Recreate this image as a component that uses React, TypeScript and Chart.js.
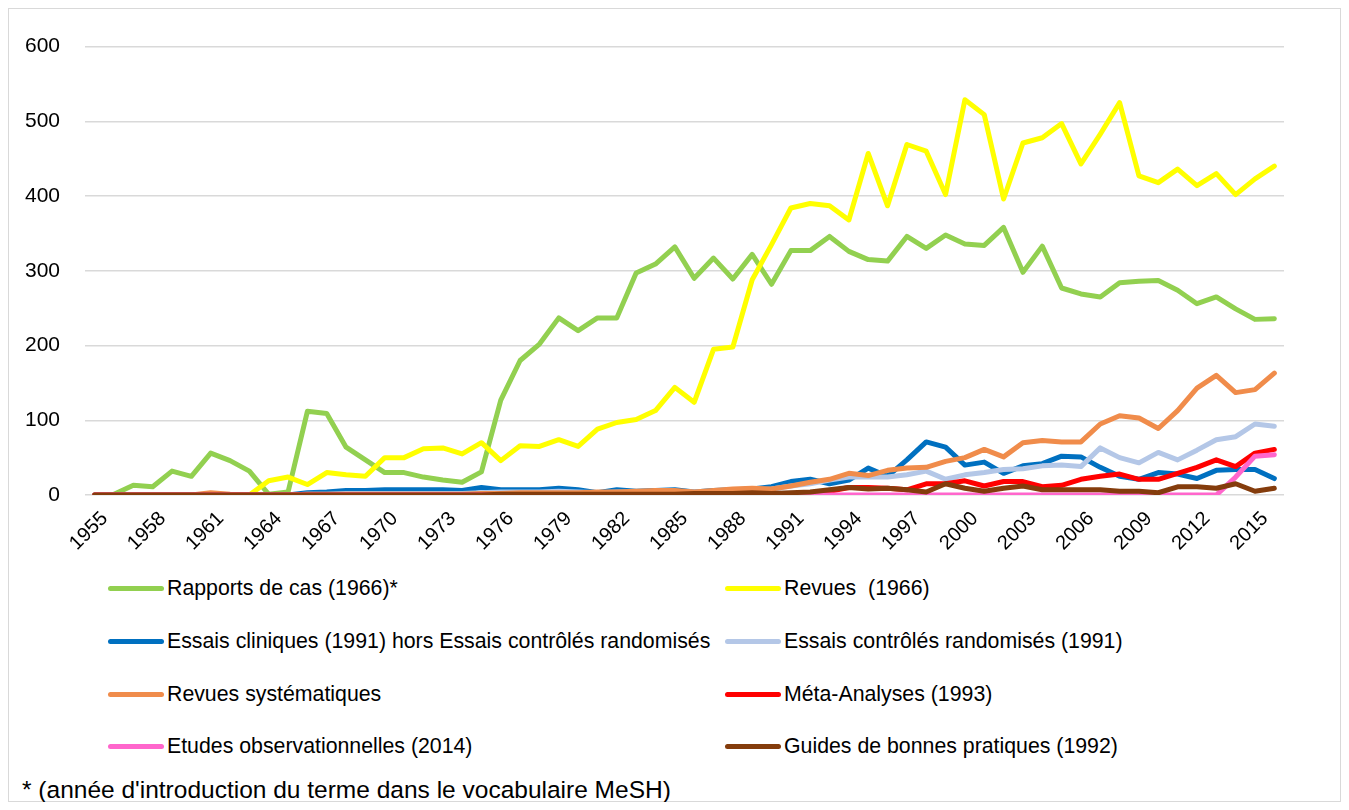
import React, { useEffect, useRef } from "react";
import { Chart, registerables } from "chart.js";

Chart.register(...registerables);

// ---- Data ----
const years = [
  "1955", "1956", "1957", "1958", "1959", "1960", "1961", "1962", "1963", "1964",
  "1965", "1966", "1967", "1968", "1969", "1970", "1971", "1972", "1973", "1974",
  "1975", "1976", "1977", "1978", "1979", "1980", "1981", "1982", "1983", "1984",
  "1985", "1986", "1987", "1988", "1989", "1990", "1991", "1992", "1993", "1994",
  "1995", "1996", "1997", "1998", "1999", "2000", "2001", "2002", "2003", "2004",
  "2005", "2006", "2007", "2008", "2009", "2010", "2011", "2012", "2013", "2014",
  "2015", "2016",
];

const xTickLabels = [
  "1955", "1958", "1961", "1964", "1967", "1970", "1973", "1976", "1979", "1982",
  "1985", "1988", "1991", "1994", "1997", "2000", "2003", "2006", "2009", "2012", "2015",
];

const yTicks = [0, 100, 200, 300, 400, 500, 600];

const rapportsDeCas = [
  0, 1, 13, 11, 32, 25, 56, 46, 32, 1,
  4, 112, 109, 64, 47, 30, 30, 24, 20, 17,
  31, 127, 180, 202, 237, 220, 237, 237, 297, 309,
  332, 290, 317, 289, 322, 282, 327, 327, 346, 326,
  315, 313, 346, 330, 348, 336, 334, 358, 298, 333,
  277, 269, 265, 284, 286, 287, 274, 256, 265, 249,
  235, 236,
];

const revues = [
  0, 0, 0, 0, 0, 0, 0, 0, 0, 19,
  24, 14, 30, 27, 25, 50, 50, 62, 63, 55,
  70, 46, 66, 65, 74, 65, 88, 97, 101, 113,
  144, 124, 195, 198, 288, 335, 384, 390, 387, 368,
  457, 387, 469, 460, 402, 529, 509, 396, 471, 478,
  497, 443, 483, 525, 427, 418, 436, 414, 430, 402,
  423, 440,
];

const essaisCliniques = [
  0, 0, 0, 0, 0, 0, 0, 0, 0, 0,
  0, 3, 4, 6, 6, 7, 7, 7, 7, 6,
  10, 7, 7, 7, 9, 7, 3, 7, 5, 6,
  7, 4, 6, 7, 8, 11, 18, 21, 15, 20,
  36, 25, 47, 71, 64, 40, 44, 29, 39, 42,
  52, 51, 37, 25, 21, 30, 28, 22, 33, 34,
  34, 22,
];

const essaisRandomises = [
  0, 0, 0, 0, 0, 0, 0, 0, 0, 0,
  0, 1, 1, 2, 2, 2, 2, 2, 2, 2,
  3, 4, 4, 4, 5, 4, 3, 4, 4, 5,
  5, 4, 5, 6, 7, 8, 12, 15, 20, 24,
  24, 24, 27, 32, 21, 27, 30, 34, 35, 39,
  40, 38, 63, 50, 43, 57, 47, 60, 74, 78,
  95, 92,
];

const revuesSystematiques = [
  0, 0, 0, 0, 0, 0, 3, 1, 0, 0,
  0, 1, 1, 1, 1, 1, 1, 1, 1, 1,
  2, 2, 3, 3, 3, 3, 4, 4, 5, 6,
  6, 4, 6, 8, 9, 8, 12, 17, 21, 29,
  26, 33, 36, 37, 45, 50, 61, 51, 70, 73,
  71, 71, 95, 106, 103, 89, 113, 143, 160, 137,
  141, 163,
];

const metaAnalyses = [
  0, 0, 0, 0, 0, 0, 0, 0, 0, 0,
  0, 0, 0, 0, 0, 0, 0, 0, 0, 0,
  0, 0, 0, 0, 0, 0, 0, 0, 0, 0,
  0, 0, 0, 0, 0, 0, 1, 3, 5, 10,
  10, 9, 7, 15, 15, 19, 12, 18, 18, 11,
  13, 21, 25, 28, 21, 21, 29, 37, 47, 38,
  56, 61,
];

const etudesObservationnelles = [
  0, 0, 0, 0, 0, 0, 0, 0, 0, 0,
  0, 0, 0, 0, 0, 0, 0, 0, 0, 0,
  0, 0, 0, 0, 0, 0, 0, 0, 0, 0,
  0, 0, 0, 0, 0, 0, 0, 0, 0, 0,
  0, 0, 0, 0, 0, 0, 0, 0, 0, 0,
  0, 0, 0, 0, 0, 0, 0, 0, 0, 24,
  52, 54,
];

const guidesPratiques = [
  0, 0, 0, 0, 0, 0, 0, 0, 0, 0,
  0, 0, 0, 0, 0, 0, 0, 0, 0, 0,
  0, 1, 1, 1, 1, 1, 1, 1, 1, 1,
  1, 2, 2, 2, 3, 2, 3, 4, 7, 10,
  8, 9, 7, 4, 15, 9, 5, 9, 12, 7,
  7, 7, 7, 5, 5, 3, 11, 11, 9, 15,
  5, 9,
];

const seriesNames = [
  "Rapports de cas (1966)*",
  "Revues  (1966)",
  "Essais cliniques (1991) hors Essais contrôlés randomisés",
  "Essais contrôlés randomisés (1991)",
  "Revues systématiques",
  "Méta-Analyses (1993)",
  "Etudes observationnelles (2014)",
  "Guides de bonnes pratiques (1992)",
];

const seriesColors = [
  "#92D050",
  "#FFFF00",
  "#0070C0",
  "#B4C7E7",
  "#F08C4B",
  "#FF0000",
  "#FF66CC",
  "#843C0C",
];

const seriesData = [
  rapportsDeCas,
  revues,
  essaisCliniques,
  essaisRandomises,
  revuesSystematiques,
  metaAnalyses,
  etudesObservationnelles,
  guidesPratiques,
];

const FONT = "'Liberation Sans', Arial, sans-serif";

export default function App() {
  const canvasRef = useRef<HTMLCanvasElement | null>(null);

  useEffect(() => {
    const canvas = canvasRef.current;
    if (!canvas) return;
    const chart = new Chart(canvas, {
      type: "line",
      data: {
        labels: years,
        datasets: seriesData.map((d, i) => ({
          label: seriesNames[i],
          data: d,
          borderColor: seriesColors[i],
          backgroundColor: seriesColors[i],
          borderWidth: 5,
          borderCapStyle: "round",
          borderJoinStyle: "round",
          pointRadius: 0,
          tension: 0,
          fill: false,
          order: seriesData.length - 1 - i,
        })),
      },
      options: {
        responsive: false,
        animation: false,
        devicePixelRatio: 1,
        layout: { padding: { top: 35, right: 56, left: 0, bottom: 0 } },
        plugins: {
          legend: { display: false },
          tooltip: { enabled: false },
        },
        scales: {
          x: {
            type: "category",
            offset: true,
            grid: { display: false },
            border: { display: false },
            ticks: {
              autoSkip: false,
              maxRotation: 45,
              minRotation: 45,
              padding: 4,
              labelOffset: 10,
              color: "#000000",
              font: { family: FONT, size: 20 },
              callback: function (this: any, _v: any, index: number) {
                const lab = years[index];
                return xTickLabels.includes(lab) ? lab : "";
              },
            },
            afterFit: (scale: any) => {
              scale.height = 74;
            },
          },
          y: {
            min: 0,
            max: 600,
            afterBuildTicks: (scale: any) => {
              scale.ticks = yTicks.map((v) => ({ value: v }));
            },
            grid: {
              color: "#d9d9d9",
              lineWidth: 1.5,
              drawTicks: false,
            },
            border: { display: false },
            ticks: {
              padding: 25,
              color: "#000000",
              font: { family: FONT, size: 21 },
            },
            afterFit: (scale: any) => {
              scale.width = 76;
            },
          },
        },
      },
    });
    return () => chart.destroy();
  }, []);

  const legendRows = [
    [0, 1],
    [2, 3],
    [4, 5],
    [6, 7],
  ];
  const rowTops = [579, 632, 685, 737];

  return (
    <div
      style={{
        position: "relative",
        width: 1331,
        height: 792,
        border: "1px solid #d9d9d9",
        fontFamily: FONT,
        background: "#ffffff",
      }}
    >
      <canvas
        ref={canvasRef}
        width={1331}
        height={560}
        style={{ position: "absolute", left: 0, top: 0, width: 1331, height: 560 }}
      />
      {legendRows.map((row, r) =>
        row.map((si, c) => (
          <div
            key={si}
            style={{
              position: "absolute",
              left: c === 0 ? 99 : 716,
              top: rowTops[r] - 13,
              height: 26,
              display: "flex",
              alignItems: "center",
              whiteSpace: "pre",
            }}
          >
            <div
              style={{
                width: 56,
                height: 5,
                borderRadius: 3,
                background: seriesColors[si],
                marginRight: 3,
              }}
            />
            <span style={{ fontSize: 21.3, color: "#000" }}>{seriesNames[si]}</span>
          </div>
        ))
      )}
      <div
        style={{
          position: "absolute",
          left: 13,
          top: 781 - 15,
          fontSize: 24.5,
          color: "#000",
          whiteSpace: "pre",
          lineHeight: "30px",
        }}
      >
        * (année d'introduction du terme dans le vocabulaire MeSH)
      </div>
    </div>
  );
}
